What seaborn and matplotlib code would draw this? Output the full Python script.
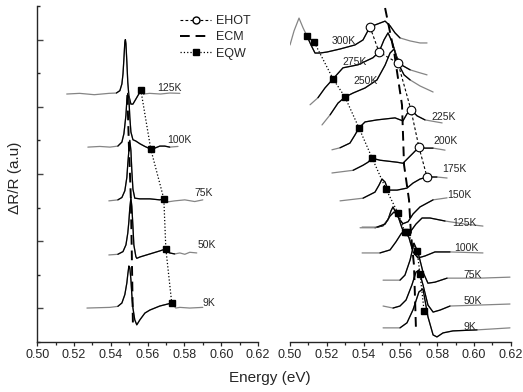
import numpy as np
import matplotlib
matplotlib.use("Agg")
import matplotlib.pyplot as plt
from matplotlib.lines import Line2D
import seaborn as sns

# ---- données (énergie en eV, signal en u.a.) ----

# panneau gauche
left_temps = ["125K", "100K", "75K", "50K", "9K"]
left_offsets = [7.38, 5.80, 4.20, 2.59, 1.01]
left_energy = [
    [0.516, 0.523, 0.531, 0.539, 0.543, 0.5449, 0.5460, 0.5466, 0.5471, 0.5476, 0.5479, 0.5482, 0.5487,
     0.5492, 0.5498, 0.5509, 0.5520, 0.5536, 0.5552, 0.5563, 0.5579, 0.561, 0.567, 0.572, 0.5775],
    [0.5275, 0.534, 0.5395, 0.5438, 0.5460, 0.5471, 0.5482, 0.5487, 0.5492, 0.5498, 0.5503, 0.5509,
     0.5520, 0.5536, 0.5558, 0.5585, 0.5617, 0.5639, 0.5666, 0.5693, 0.572, 0.5765],
    [0.5389, 0.5438, 0.5460, 0.5476, 0.5487, 0.5492, 0.5498, 0.5503, 0.5509, 0.5514, 0.5520, 0.5530,
     0.5558, 0.5612, 0.5666, 0.5688, 0.5709, 0.5747, 0.5802, 0.5856, 0.5900],
    [0.5389, 0.5438, 0.5466, 0.5482, 0.5492, 0.5498, 0.5503, 0.5509, 0.5514, 0.5520, 0.5525, 0.5536,
     0.5541, 0.5558, 0.5612, 0.5666, 0.5699, 0.5720, 0.5747, 0.5775, 0.5802, 0.5829, 0.5867],
    [0.5270, 0.5395, 0.5438, 0.5460, 0.5476, 0.5487, 0.5492, 0.5498, 0.5503, 0.5509, 0.5514, 0.5520,
     0.5530, 0.5541, 0.5558, 0.5585, 0.5612, 0.5666, 0.5731, 0.5753, 0.5775, 0.5829, 0.5900],
]
left_signal = [
    [0, 0.02, -0.02, 0.02, 0.03, 0.1, 0.3, 0.6, 1.05, 1.55, 1.62, 1.5, 0.95, 0.35, -0.05, -0.3, -0.3,
     -0.15, 0.0, 0.12, 0.0, 0.02, 0.0, 0.03, 0.02],
    [0, 0.02, 0, 0.03, 0.15, 0.4, 0.95, 1.4, 1.6, 1.45, 0.9, 0.45, 0.22, 0.18, 0.1, 0.02, -0.06, -0.03,
     0.03, 0.03, 0.0, 0.02],
    [0, 0.03, 0.1, 0.3, 0.7, 1.1, 1.5, 1.8, 1.5, 0.9, 0.35, 0.08, 0.06, 0.06, 0.03, 0.06, -0.03, 0.0,
     0.03, -0.02, 0.03],
    [0, 0.02, 0.1, 0.3, 0.65, 1.0, 1.4, 1.7, 1.45, 0.85, 0.3, -0.05, -0.1, -0.06, 0.03, 0.12, 0.18, 0.06,
     0.03, 0.06, 0.02, 0.08, 0.06],
    [0, 0.02, 0.05, 0.15, 0.4, 0.75, 1.0, 1.25, 1.2, 0.85, 0.4, 0.0, -0.35, -0.5, -0.35, -0.15, -0.06,
     0.06, 0.15, 0.0, 0.02, 0.0, 0.02],
]
left_fit_range = [(0.542, 0.558), (0.541, 0.576), (0.543, 0.572), (0.543, 0.575), (0.542, 0.575)]
left_label_pos = [(0.5651, 7.56), (0.5705, 6.01), (0.5856, 4.43), (0.5873, 2.88), (0.5900, 1.16)]

left_eqw_E = [0.5563, 0.5617, 0.5688, 0.5699, 0.5731]
left_eqw_y = [7.5, 5.74, 4.26, 2.77, 1.16]
left_ecm_E = [0.5490, 0.5498, 0.5509, 0.5514, 0.5520]
left_ecm_y = [7.35, 5.86, 4.23, 2.59, 0.51]

# panneau droit
right_temps = ["300K", "275K", "250K", "225K", "200K", "175K", "150K", "125K", "100K", "75K", "50K", "9K"]
right_offsets = [8.90, 7.95, 7.44, 6.52, 5.71, 4.88, 4.29, 3.42, 2.65, 1.90, 1.13, 0.42]
right_energy = [
    [0.5000, 0.5022, 0.5049, 0.5071, 0.5092, 0.5114, 0.5136, 0.5163, 0.5201, 0.5272, 0.5353, 0.5397,
     0.5435, 0.5479, 0.5517, 0.5544, 0.5571, 0.5598, 0.5653, 0.5707, 0.5745],
    [0.5109, 0.5152, 0.5190, 0.5234, 0.5288, 0.5370, 0.5451, 0.5484, 0.5511, 0.5533, 0.5555, 0.5582,
     0.5614, 0.5653, 0.5707, 0.5745],
    [0.5174, 0.5218, 0.5261, 0.5299, 0.5343, 0.5408, 0.5473, 0.5517, 0.5544, 0.5566, 0.5587, 0.5620,
     0.5653, 0.5707, 0.5778],
    [0.5228, 0.5272, 0.5326, 0.5353, 0.5375, 0.5408, 0.5473, 0.5571, 0.5614, 0.5636, 0.5658, 0.5691,
     0.5734, 0.5827],
    [0.5228, 0.5343, 0.5397, 0.5424, 0.5446, 0.5489, 0.5582, 0.5614, 0.5669, 0.5701, 0.5734, 0.5778,
     0.5843],
    [0.5272, 0.5397, 0.5462, 0.5484, 0.5500, 0.5517, 0.5533, 0.5582, 0.5636, 0.5669, 0.5707, 0.5745,
     0.5799, 0.5854],
    [0.5381, 0.5462, 0.5506, 0.5533, 0.5549, 0.5560, 0.5576, 0.5593, 0.5614, 0.5642, 0.5669, 0.5707,
     0.5778, 0.5854],
    [0.5392, 0.5473, 0.5517, 0.5544, 0.5566, 0.5587, 0.5609, 0.5631, 0.5653, 0.5685, 0.5718, 0.5761,
     0.5843, 0.5952, 0.6049],
    [0.5392, 0.5489, 0.5544, 0.5576, 0.5604, 0.5625, 0.5647, 0.5669, 0.5696, 0.5734, 0.5788, 0.5870,
     0.6049],
    [0.5506, 0.5598, 0.5625, 0.5653, 0.5674, 0.5696, 0.5723, 0.5750, 0.5788, 0.5854, 0.6033, 0.6196],
    [0.5506, 0.5560, 0.5598, 0.5631, 0.5663, 0.5685, 0.5701, 0.5723, 0.5750, 0.5778, 0.5816, 0.5870,
     0.6033, 0.6196],
    [0.5506, 0.5598, 0.5636, 0.5669, 0.5701, 0.5723, 0.5750, 0.5778, 0.5799, 0.5832, 0.5886, 0.6017,
     0.6196],
]
right_signal = [
    [-0.06, 0.36, 0.74, 0.45, 0.21, -0.06, -0.30, -0.30, -0.27, -0.18, -0.06, 0.09, 0.48, 0.57, 0.65,
     0.51, 0.30, 0.15, 0.06, 0, 0],
    [-0.89, -0.68, -0.39, -0.12, 0.21, 0.30, 0.51, 0.68, 1.04, 1.25, 0.98, 0.51, 0.27, 0.15, 0.06, 0],
    [-0.98, -0.68, -0.33, -0.15, -0.03, 0.12, 0.36, 0.80, 1.16, 1.28, 0.86, 0.51, 0.36, 0.18, 0],
    [-0.80, -0.74, -0.60, -0.36, -0.15, 0.03, 0.09, 0.15, 0.06, 0.27, 0.39, 0.21, 0.09, 0],
    [-0.68, -0.60, -0.45, -0.36, -0.24, -0.30, -0.36, -0.39, -0.09, 0.09, 0.06, 0.06, 0],
    [-0.68, -0.60, -0.42, -0.21, -0.03, -0.12, -0.36, -0.36, -0.30, -0.15, -0.03, 0.03, 0.03, 0],
    [-0.89, -0.89, -0.83, -0.65, -0.39, -0.27, -0.45, -0.62, -0.77, -0.71, -0.48, -0.27, -0.06, 0],
    [0, 0, 0.09, 0.33, 0.45, 0.33, -0.03, -0.21, -0.15, 0.09, 0.27, 0.27, 0.18, 0.09, 0.03],
    [0, 0, 0.09, 0.33, 0.57, 0.68, 0.45, 0.03, -0.15, -0.09, 0.03, 0.03, 0],
    [-0.06, -0.06, 0.09, 0.54, 1.04, 0.77, 0.18, -0.15, -0.12, 0, 0, 0.03],
    [-0.06, -0.12, -0.06, 0.12, 0.57, 0.95, 1.01, 0.57, -0.03, -0.24, -0.18, -0.06, -0.03, 0],
    [0, 0, 0.15, 0.54, 1.07, 1.16, 0.33, -0.21, -0.27, -0.15, -0.09, -0.06, 0],
]
right_fit_range = [(0.509, 0.565), (0.513, 0.566), (0.52, 0.57), (0.525, 0.575), (0.53, 0.58),
                   (0.535, 0.58), (0.54, 0.58), (0.545, 0.585), (0.545, 0.59), (0.552, 0.60),
                   (0.552, 0.60), (0.552, 0.61)]
right_label_pos = [(0.5228, 8.96), (0.5283, 8.33), (0.5343, 7.77), (0.5767, 6.70), (0.5778, 5.98),
                   (0.5827, 5.15), (0.5854, 4.38), (0.5881, 3.54), (0.5892, 2.80), (0.5941, 1.99),
                   (0.5946, 1.22), (0.5941, 0.45)]

right_eqw_E = [0.5092, 0.5131, 0.5234, 0.5299, 0.5375, 0.5446, 0.5522, 0.5587, 0.5625, 0.5636,
               0.5691, 0.5707, 0.5729]
right_eqw_y = [9.11, 8.93, 7.83, 7.29, 6.37, 5.48, 4.55, 3.84, 3.27, 3.27, 2.71, 2.02, 0.92]
right_ehot_E = [0.5435, 0.5484, 0.5587, 0.5658, 0.5701, 0.5745]
right_ehot_y = [9.375, 8.63, 8.30, 6.90, 5.80, 4.91]
right_ecm_E = [0.5517, 0.5566, 0.5609, 0.5620, 0.5647, 0.5658, 0.5674, 0.5680, 0.5685]
right_ecm_y = [9.94, 8.63, 7.05, 5.27, 4.23, 3.18, 2.29, 1.25, 0.36]

# ---- style ----
sns.set_style("ticks")
plt.rcParams["font.family"] = ["Liberation Sans", "DejaVu Sans"]

GREY = "#858585"
ECM_DASH = (5, 3)
EHOT_DASH = (2.5, 2)


def draw_curves(ax, energies, signals, offsets, fit_ranges):
    for E, S, off, (lo, hi) in zip(energies, signals, offsets, fit_ranges):
        E = np.array(E)
        y = np.array(S) + off
        sns.lineplot(x=E, y=y, ax=ax, color=GREY, lw=0.9, legend=False)
        m = (E >= lo) & (E <= hi)
        sns.lineplot(x=E[m], y=y[m], ax=ax, color="black", lw=0.9, legend=False)


def eqw(ax, E, y):
    ax.plot(E, y, ls=":", color="black", lw=0.9, marker="s", ms=5,
            mfc="black", mec="black", zorder=5)


def ecm(ax, E, y):
    ax.plot(E, y, color="black", lw=1.4, dashes=ECM_DASH, zorder=4)


def ehot(ax, E, y):
    ax.plot(E, y, color="black", lw=0.8, dashes=EHOT_DASH, marker="o", ms=6.2,
            mfc="white", mec="black", mew=0.8, zorder=5)


fig = plt.figure(figsize=(5.23, 3.92), dpi=100)
ax1 = fig.add_axes([0.0713, 0.1276, 0.4220, 0.8571])
ax2 = fig.add_axes([0.5545, 0.1276, 0.4220, 0.8571])

draw_curves(ax1, left_energy, left_signal, left_offsets, left_fit_range)
ecm(ax1, left_ecm_E, left_ecm_y)
eqw(ax1, left_eqw_E, left_eqw_y)
for t, (x, y) in zip(left_temps, left_label_pos):
    ax1.text(x, y, t, fontsize=7.5, va="center", ha="left")

draw_curves(ax2, right_energy, right_signal, right_offsets, right_fit_range)
ecm(ax2, right_ecm_E, right_ecm_y)
ehot(ax2, right_ehot_E, right_ehot_y)
eqw(ax2, right_eqw_E, right_eqw_y)
for t, (x, y) in zip(right_temps, right_label_pos):
    ax2.text(x, y, t, fontsize=7.5, va="center", ha="left")

xticks = np.arange(0.50, 0.621, 0.02)
for ax in (ax1, ax2):
    ax.set_xlim(0.50, 0.62)
    ax.set_ylim(0, 10)
    ax.set_xticks(xticks)
    ax.set_xticklabels([f"{v:.2f}" for v in xticks])
    ax.set_xticks(np.arange(0.51, 0.62, 0.02), minor=True)
    ax.tick_params(axis="x", which="major", direction="out", length=3, width=0.9, labelsize=9, pad=2)
    ax.tick_params(axis="x", which="minor", direction="out", length=1.8, width=0.9)
    ax.spines["top"].set_visible(False)
    ax.spines["right"].set_visible(False)
    ax.spines["bottom"].set_linewidth(1.0)
    ax.set_xlabel("")
    ax.set_ylabel("")

ax1.set_yticks([1, 3, 5, 7, 9])
ax1.set_yticks([0, 2, 4, 6, 8, 10], minor=True)
ax1.set_yticklabels([])
ax1.tick_params(axis="y", which="major", direction="in", length=4.3, width=1.0, color="#444444")
ax1.tick_params(axis="y", which="minor", direction="in", length=2.2, width=1.0)
ax1.spines["left"].set_linewidth(1.0)

ax2.spines["left"].set_visible(False)
ax2.set_yticks([])

handles = [
    Line2D([], [], color="black", lw=0.8, dashes=EHOT_DASH, marker="o", ms=5, mfc="white", mec="black"),
    Line2D([], [], color="black", lw=1.4, dashes=ECM_DASH),
    Line2D([], [], color="black", lw=0.9, ls=":", marker="s", ms=4.5, mfc="black", mec="black"),
]
fig.legend(handles, ["EHOT", "ECM", "EQW"], loc="upper left", bbox_to_anchor=(180 / 523, 1 - 15 / 392),
           frameon=False, fontsize=9, handlelength=2.5, handletextpad=0.35, labelspacing=0.35,
           borderpad=0, borderaxespad=0)

fig.text(270 / 523, 1 - 378 / 392, "Energy (eV)", fontsize=11, ha="center", va="center")
fig.text(15 / 523, 1 - 178 / 392, "ΔR/R (a.u)", fontsize=11, ha="center", va="center", rotation=90)

fig.savefig("out.png", dpi=100)
